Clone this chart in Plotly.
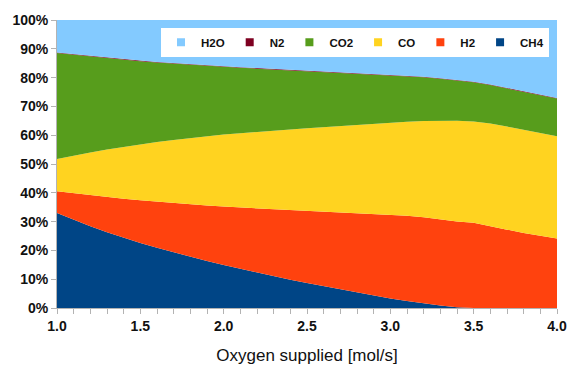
import plotly.graph_objects as go

# Oxygen supplied [mol/s]
oxygen = [1.0, 1.1, 1.2, 1.3, 1.4, 1.5, 1.6, 1.7, 1.8, 1.9, 2.0,
          2.1, 2.2, 2.3, 2.4, 2.5, 2.6, 2.7, 2.8, 2.9, 3.0,
          3.1, 3.2, 3.3, 3.4, 3.5, 3.6, 3.7, 3.8, 3.9, 4.0]

# Gas composition, % of product stream
ch4 = [33.0, 30.6, 28.4, 26.3, 24.4, 22.6, 20.9, 19.3, 17.8, 16.3, 14.9,
       13.6, 12.3, 11.0, 9.8, 8.7, 7.6, 6.5, 5.4, 4.3, 3.3,
       2.4, 1.6, 0.9, 0.3, 0.0, 0.0, 0.0, 0.0, 0.0, 0.0]
h2 = [7.5, 9.2, 10.7, 12.2, 13.5, 14.8, 16.0, 17.1, 18.2, 19.3, 20.3,
      21.3, 22.3, 23.3, 24.3, 25.2, 26.0, 26.8, 27.6, 28.4, 29.1,
      29.6, 29.9, 29.9, 29.7, 29.6, 28.5, 27.2, 26.0, 25.0, 24.1]
co = [11.2, 13.1, 14.9, 16.5, 18.0, 19.4, 20.7, 21.9, 23.0, 24.0, 25.0,
      25.8, 26.6, 27.3, 27.9, 28.5, 29.2, 29.9, 30.6, 31.3, 32.0,
      32.7, 33.4, 34.2, 35.0, 35.2, 35.6, 35.8, 35.9, 35.8, 35.5]
co2 = [36.8, 35.0, 33.3, 31.7, 30.3, 28.9, 27.6, 26.5, 25.4, 24.4, 23.5,
       22.7, 21.9, 21.2, 20.5, 19.9, 19.2, 18.5, 17.8, 17.1, 16.4,
       15.8, 15.2, 14.6, 14.0, 13.6, 13.3, 13.2, 13.1, 13.0, 13.1]
n2 = [0.2] * 31
h2o = [11.3, 11.9, 12.5, 13.1, 13.6, 14.1, 14.6, 15.0, 15.4, 15.8, 16.1,
       16.4, 16.7, 17.0, 17.3, 17.5, 17.8, 18.1, 18.4, 18.7, 19.0,
       19.3, 19.7, 20.2, 20.8, 21.4, 22.4, 23.6, 24.8, 26.0, 27.2]

series = [
    ("CH4", ch4, "#004586"),
    ("H2", h2, "#ff420e"),
    ("CO", co, "#ffd320"),
    ("CO2", co2, "#579d1c"),
    ("N2", n2, "#7e0021"),
    ("H2O", h2o, "#83caff"),
]

fig = go.Figure()

# stacked areas, bottom to top
for name, vals, color in series:
    fig.add_trace(go.Scatter(
        x=oxygen, y=vals, name=name, stackgroup="gas",
        mode="lines", line=dict(width=0, color=color),
        fillcolor=color, showlegend=False, hoverinfo="x+y+name",
    ))

# square legend keys, listed top layer first
for name, vals, color in reversed(series):
    fig.add_trace(go.Scatter(
        x=[None], y=[None], name=name, mode="markers",
        marker=dict(symbol="square", size=8, color=color),
    ))

axis_grey = "#b3b3b3"
tick_font = dict(family="Liberation Sans", size=14, color="#111111", weight="bold")

fig.update_layout(
    width=579, height=374,
    margin=dict(l=57, r=14, t=15, b=65),
    paper_bgcolor="white", plot_bgcolor="white",
    font=dict(family="Liberation Sans", color="#111111"),
    legend=dict(
        orientation="h", x=0.984, xanchor="right", y=0.973, yanchor="top",
        bgcolor="white", borderwidth=0, itemwidth=30,
        font=dict(family="Liberation Sans", size=11.5, color="#111111", weight="bold"),
        traceorder="normal",
    ),
    xaxis=dict(
        range=[1, 4], dtick=0.5, tickformat=".1f",
        ticks="outside", ticklen=5, tickcolor=axis_grey,
        minor=dict(dtick=0.1, ticks="outside", ticklen=5, tickcolor=axis_grey),
        showline=True, linecolor=axis_grey, showgrid=False, zeroline=False,
        tickfont=tick_font,
        title=dict(text="Oxygen supplied [mol/s]", standoff=16,
                   font=dict(family="Liberation Sans", size=17, color="#111111")),
    ),
    yaxis=dict(
        range=[0, 100], dtick=10, ticksuffix="%",
        ticks="outside", ticklen=5, tickcolor=axis_grey,
        showline=True, linecolor=axis_grey, showgrid=False, zeroline=False,
        tickfont=tick_font,
    ),
)

fig.write_html("out.html")
